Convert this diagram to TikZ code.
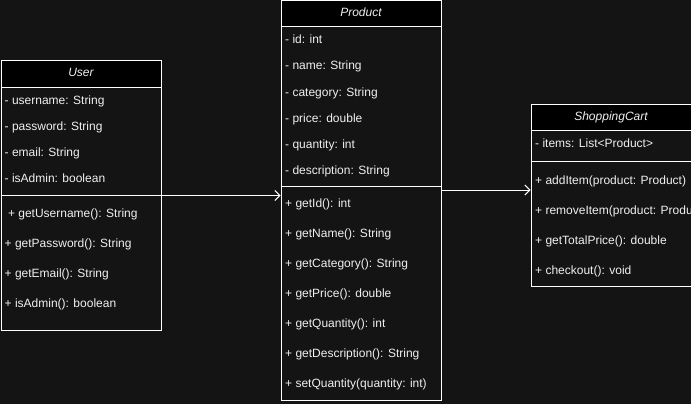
\documentclass[tikz,border=0pt]{standalone}
\usepackage{fontspec}
\setmainfont{Liberation Sans}
\usetikzlibrary{arrows.meta}
\definecolor{canvas}{RGB}{20,20,20}
\definecolor{ink}{RGB}{240,240,240}

\begin{document}
\begin{tikzpicture}[x=1pt, y=-1pt, >={Straight Barb[length=5pt, width=10pt]},
        every node/.style={inner sep=0pt, text=ink, font=\fontsize{12}{14}\selectfont},
        classbox/.style={draw=white, line width=1pt, fill=canvas, anchor=north west},
        classtitle/.style={classbox, fill=black, font=\fontsize{12}{14}\selectfont\itshape, text height=9pt, text depth=3pt},
        member/.style={anchor=west, text height=9pt, text depth=3pt},
        link/.style={->, draw=white, line width=1pt}]
    \clip (0,0) rectangle (691,404);
    \fill[canvas] (0,0) rectangle (691,404);

    % Nodes
    \node[classbox, minimum width=160pt, minimum height=270pt] at (0.5,60) (user) {};
    \node[classtitle, minimum width=160pt, minimum height=27pt] at (0.5,60) (userTitle) {User};
    \draw[white, line width=1pt] (user.west |- 0,195) -- (user.east |- 0,195);
    \foreach \txt [count=\i] in {- username: String, - password: String, - email: String, - isAdmin: boolean}
        \node[member] (userA\i) at (4.5, 75+26*\i) {\txt};
    \foreach \txt [count=\i] in {{\ + getUsername(): String}, + getPassword(): String, + getEmail(): String, + isAdmin(): boolean}
        \node[member] (userM\i) at (4.5, 184+30*\i) {\txt};

    \node[classbox, minimum width=160pt, minimum height=399.5pt] at (280.5,0.5) (product) {};
    \node[classtitle, minimum width=160pt, minimum height=25.5pt] at (280.5,0.5) (productTitle) {Product};
    \draw[white, line width=1pt] (product.west |- 0,186) -- (product.east |- 0,186);
    \foreach \txt [count=\i] in {- id: int, - name: String, - category: String, - price: double, - quantity: int, - description: String}
        \node[member] (productA\i) at (285, 15+26*\i) {\txt};
    \foreach \txt [count=\i] in {+ getId(): int, + getName(): String, + getCategory(): String, + getPrice(): double, + getQuantity(): int, + getDescription(): String, + setQuantity(quantity: int)}
        \node[member] (productM\i) at (285, 174+30*\i) {\txt};

    \node[classbox, minimum width=160pt, minimum height=182pt] at (530.5,104) (cart) {};
    \node[classtitle, minimum width=160pt, minimum height=26pt] at (530.5,104) (cartTitle) {ShoppingCart};
    \draw[white, line width=1pt] (cart.west |- 0,161) -- (cart.east |- 0,161);
    \begin{scope}
        \clip (cart.north west) rectangle (cart.south east);
        \node[member] (cartA1) at (535, 144) {- items: List<Product>};
        \foreach \txt [count=\i] in {+ addItem(product: Product), + removeItem(product: Product), + getTotalPrice(): double, + checkout(): void}
            \node[member] (cartM\i) at (535, 151+30*\i) {\txt};
    \end{scope}
    \draw[white, line width=1pt] (cart.north east) -- (cart.south east);

    % Edges
    \draw[link] (user.east) -- (user.east -| product.west);
    \draw[link] (product.east |- 0,190) -- (cart.west |- 0,190);
\end{tikzpicture}
\end{document}
